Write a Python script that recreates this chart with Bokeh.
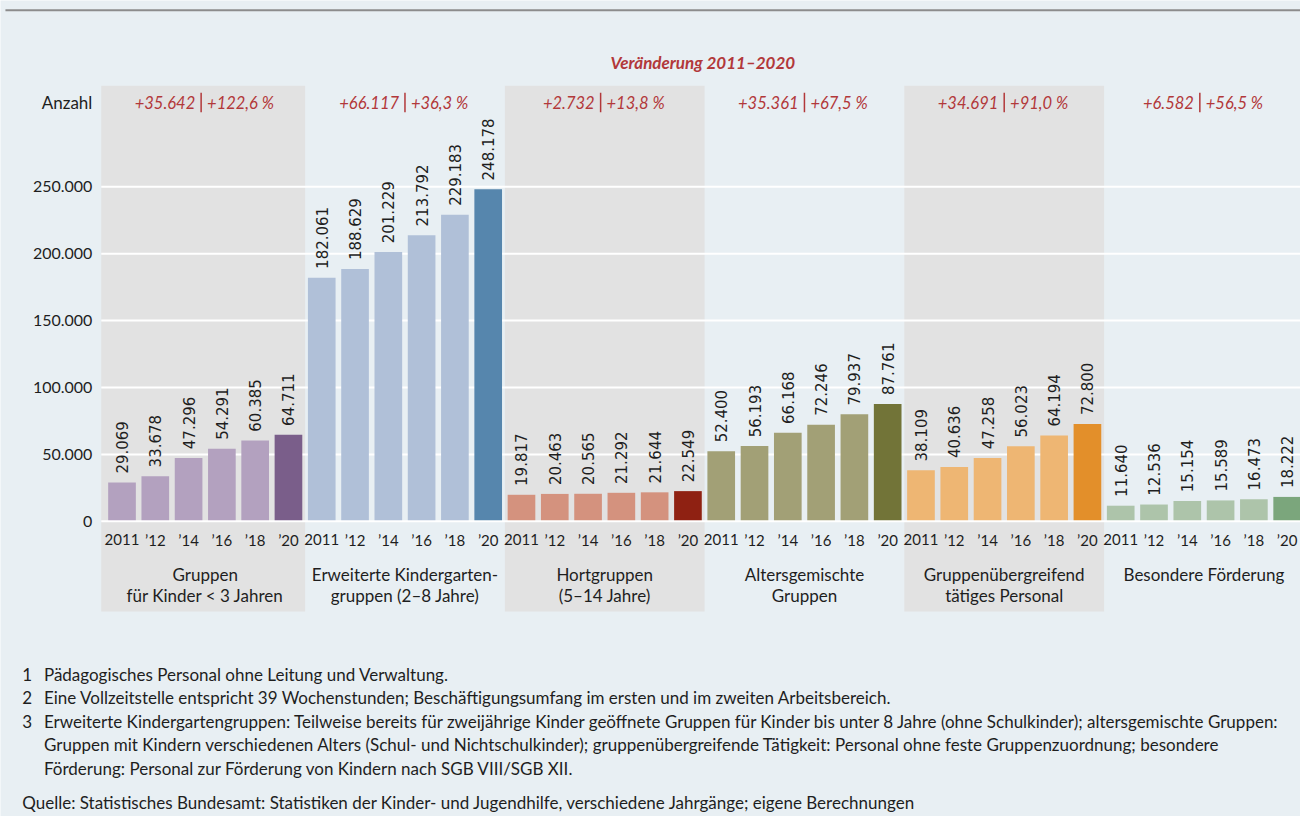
import numpy as np
from bokeh.plotting import figure
from bokeh.models import Range1d
from bokeh.core.properties import value
from bokeh.embed import file_html
from bokeh.resources import INLINE

# ---------------- data ----------------
groups = ["Gruppen\nfür Kinder < 3 Jahren",
          "Erweiterte Kindergarten-\ngruppen (2–8 Jahre)",
          "Hortgruppen\n(5–14 Jahre)",
          "Altersgemischte\nGruppen",
          "Gruppenübergreifend\ntätiges Personal",
          "Besondere Förderung"]
years = ["2011", "’12", "’14", "’16", "’18", "’20"]
krippe = [29069, 33678, 47296, 54291, 60385, 64711]
kindergarten = [182061, 188629, 201229, 213792, 229183, 248178]
hort = [19817, 20463, 20565, 21292, 21644, 22549]
altersgemischt = [52400, 56193, 66168, 72246, 79937, 87761]
uebergreifend = [38109, 40636, 47258, 56023, 64194, 72800]
foerderung = [11640, 12536, 15154, 15589, 16473, 18222]
change_abs = ["+35.642", "+66.117", "+2.732", "+35.361", "+34.691", "+6.582"]
change_pct = ["+122,6 %", "+36,3 %", "+13,8 %", "+67,5 %", "+91,0 %", "+56,5 %"]
y_ticks = [0, 50000, 100000, 150000, 200000, 250000]
title = "Veränderung 2011–2020"
y_label = "Anzahl"
footnotes = [
    ("1", "Pädagogisches Personal ohne Leitung und Verwaltung."),
    ("2", "Eine Vollzeitstelle entspricht 39 Wochenstunden; Beschäftigungsumfang im ersten und im zweiten Arbeitsbereich."),
    ("3", "Erweiterte Kindergartengruppen: Teilweise bereits für zweijährige Kinder geöffnete Gruppen für Kinder bis unter 8 Jahre (ohne Schulkinder); altersgemischte Gruppen:"),
    ("", "Gruppen mit Kindern verschiedenen Alters (Schul- und Nichtschulkinder); gruppenübergreifende Tätigkeit: Personal ohne feste Gruppenzuordnung; besondere"),
    ("", "Förderung: Personal zur Förderung von Kindern nach SGB VIII/SGB XII."),
]
source_note = "Quelle: Statistisches Bundesamt: Statistiken der Kinder- und Jugendhilfe, verschiedene Jahrgänge; eigene Berechnungen"

series = [krippe, kindergarten, hort, altersgemischt, uebergreifend, foerderung]

# ---------------- style ----------------
light_colors = ["#b3a1bf", "#b0c0d8", "#d4927e", "#a2a076", "#eeb673", "#adc4aa"]
dark_colors = ["#7a5e8a", "#5686ad", "#8f2112", "#727438", "#e38f2a", "#7ba67c"]
BG = "#e8eff3"
BAND = "#e2e2e2"
RED = "#b2383a"
TXT = "#1e1e1e"
FONT = "Lato"

# ---------------- layout (reference pixels -> data) ----------------
W, H = 1300, 816          # figure size
RW, RH = 1316, 832        # reference canvas that is mapped onto the figure
X0, PITCH = 123.0, 33.7
Y0, PPU = 531.0, 341.0 / 250000


def dx(X):
    return (X - X0) / PITCH


def dy(Y):
    return (Y0 - Y) / PPU


p = figure(width=W, height=H,
           x_range=Range1d(dx(0), dx(RW)),
           y_range=Range1d(dy(RH), dy(0)),
           x_axis_type=None, y_axis_type=None,
           toolbar_location=None, output_backend="svg",
           min_border=0, min_border_left=0, min_border_right=0,
           min_border_top=0, min_border_bottom=0,
           background_fill_color=BG, border_fill_color=BG,
           outline_line_color=None)

# top rule
p.segment(x0=[dx(5)], x1=[dx(RW)], y0=[dy(10)], y1=[dy(10)],
          line_color="#8c8c8c", line_width=2)

# grey bands for alternating groups
n = len(years)
band_left, band_right = [], []
for g in range(0, len(groups), 2):
    left = g * n - 0.5
    if g == 0:
        left = dx(102)
    band_left.append(left)
    band_right.append(g * n + n - 0.5)
p.quad(left=band_left, right=band_right, bottom=dy(623), top=dy(87),
       fill_color=BAND, line_color=None)

# gridlines
grid_vals = y_ticks[1:]
p.segment(x0=[dx(102)] * len(grid_vals), x1=[dx(RW)] * len(grid_vals),
          y0=grid_vals, y1=grid_vals, line_color="white", line_width=2)

# bars
xs, tops, cols = [], [], []
for g, vals in enumerate(series):
    for i, v in enumerate(vals):
        xs.append(g * n + i)
        tops.append(v)
        cols.append(dark_colors[g] if i == n - 1 else light_colors[g])
p.vbar(x=xs, top=tops, bottom=0, width=28 / PITCH, fill_color=cols, line_color=None)

# zero line
p.segment(x0=[dx(102)], x1=[dx(RW)], y0=[0], y1=[0], line_color="white", line_width=2)


def fmt(v):
    return f"{v:,}".replace(",", ".")


# value labels (rotated)
p.text(x=xs, y=[t + 9 / PPU for t in tops], text=[fmt(t) for t in tops],
       angle=np.pi / 2, text_align="left", text_baseline="middle",
       text_font=value("DejaVu Sans"), text_font_size="15px", text_color=TXT)

# year tick labels
p.text(x=xs, y=[dy(550)] * len(xs), text=years * len(groups),
       text_align="center", text_baseline="middle",
       text_font=value(FONT), text_font_size="15px", text_color=TXT)

# group labels
gx, gy, gt = [], [], []
for g, lab in enumerate(groups):
    for j, line in enumerate(lab.split("\n")):
        gx.append(g * n + (n - 1) / 2)
        gy.append(dy(585 + 22 * j))
        gt.append(line)
p.text(x=gx, y=gy, text=gt, text_align="center", text_baseline="middle",
       text_font=value(FONT), text_font_size="17px", text_color=TXT)

# y tick labels
p.text(x=[dx(93)] * len(y_ticks), y=y_ticks, text=[fmt(v) for v in y_ticks],
       text_align="right", text_baseline="middle",
       text_font=value(FONT), text_font_size="16px", text_color=TXT)
p.text(x=[dx(93)], y=[dy(104)], text=[y_label], text_align="right", text_baseline="middle",
       text_font=value(FONT), text_font_size="17px", text_color=TXT)

# title of change row
p.text(x=[dx(711)], y=[dy(63)], text=[title], text_align="center", text_baseline="middle",
       text_font=value(FONT), text_font_size="17px", text_font_style="bold italic",
       text_color=RED)

# change annotations: left part | right part
CW = 8.3
GAP = 6
bar_x = [g * n + (n - 1) / 2 - (len(change_pct[g]) - len(change_abs[g])) * (CW / 2) / PITCH
         for g in range(len(groups))]
p.text(x=[b - GAP / PITCH for b in bar_x], y=[dy(104)] * len(groups), text=change_abs,
       text_align="right", text_baseline="middle",
       text_font=value(FONT), text_font_size="16.5px", text_font_style="italic", text_color=RED)
p.text(x=[b + GAP / PITCH for b in bar_x], y=[dy(104)] * len(groups), text=change_pct,
       text_align="left", text_baseline="middle",
       text_font=value(FONT), text_font_size="16.5px", text_font_style="italic", text_color=RED)
p.segment(x0=bar_x, x1=bar_x, y0=[dy(94)] * len(groups), y1=[dy(114)] * len(groups),
          line_color=RED, line_width=1.5)

# footnotes
fy = [687 + 24 * i for i in range(len(footnotes))]
p.text(x=[dx(22)] * len(footnotes), y=[dy(v) for v in fy], text=[f[0] for f in footnotes],
       text_align="left", text_baseline="middle",
       text_font=value(FONT), text_font_size="17px", text_color=TXT)
p.text(x=[dx(44)] * len(footnotes), y=[dy(v) for v in fy], text=[f[1] for f in footnotes],
       text_align="left", text_baseline="middle",
       text_font=value(FONT), text_font_size="17px", text_color=TXT)
p.text(x=[dx(22)], y=[dy(818)], text=[source_note], text_align="left", text_baseline="middle",
       text_font=value(FONT), text_font_size="17px", text_color=TXT)

open("out.html", "w").write(file_html(p, INLINE))
